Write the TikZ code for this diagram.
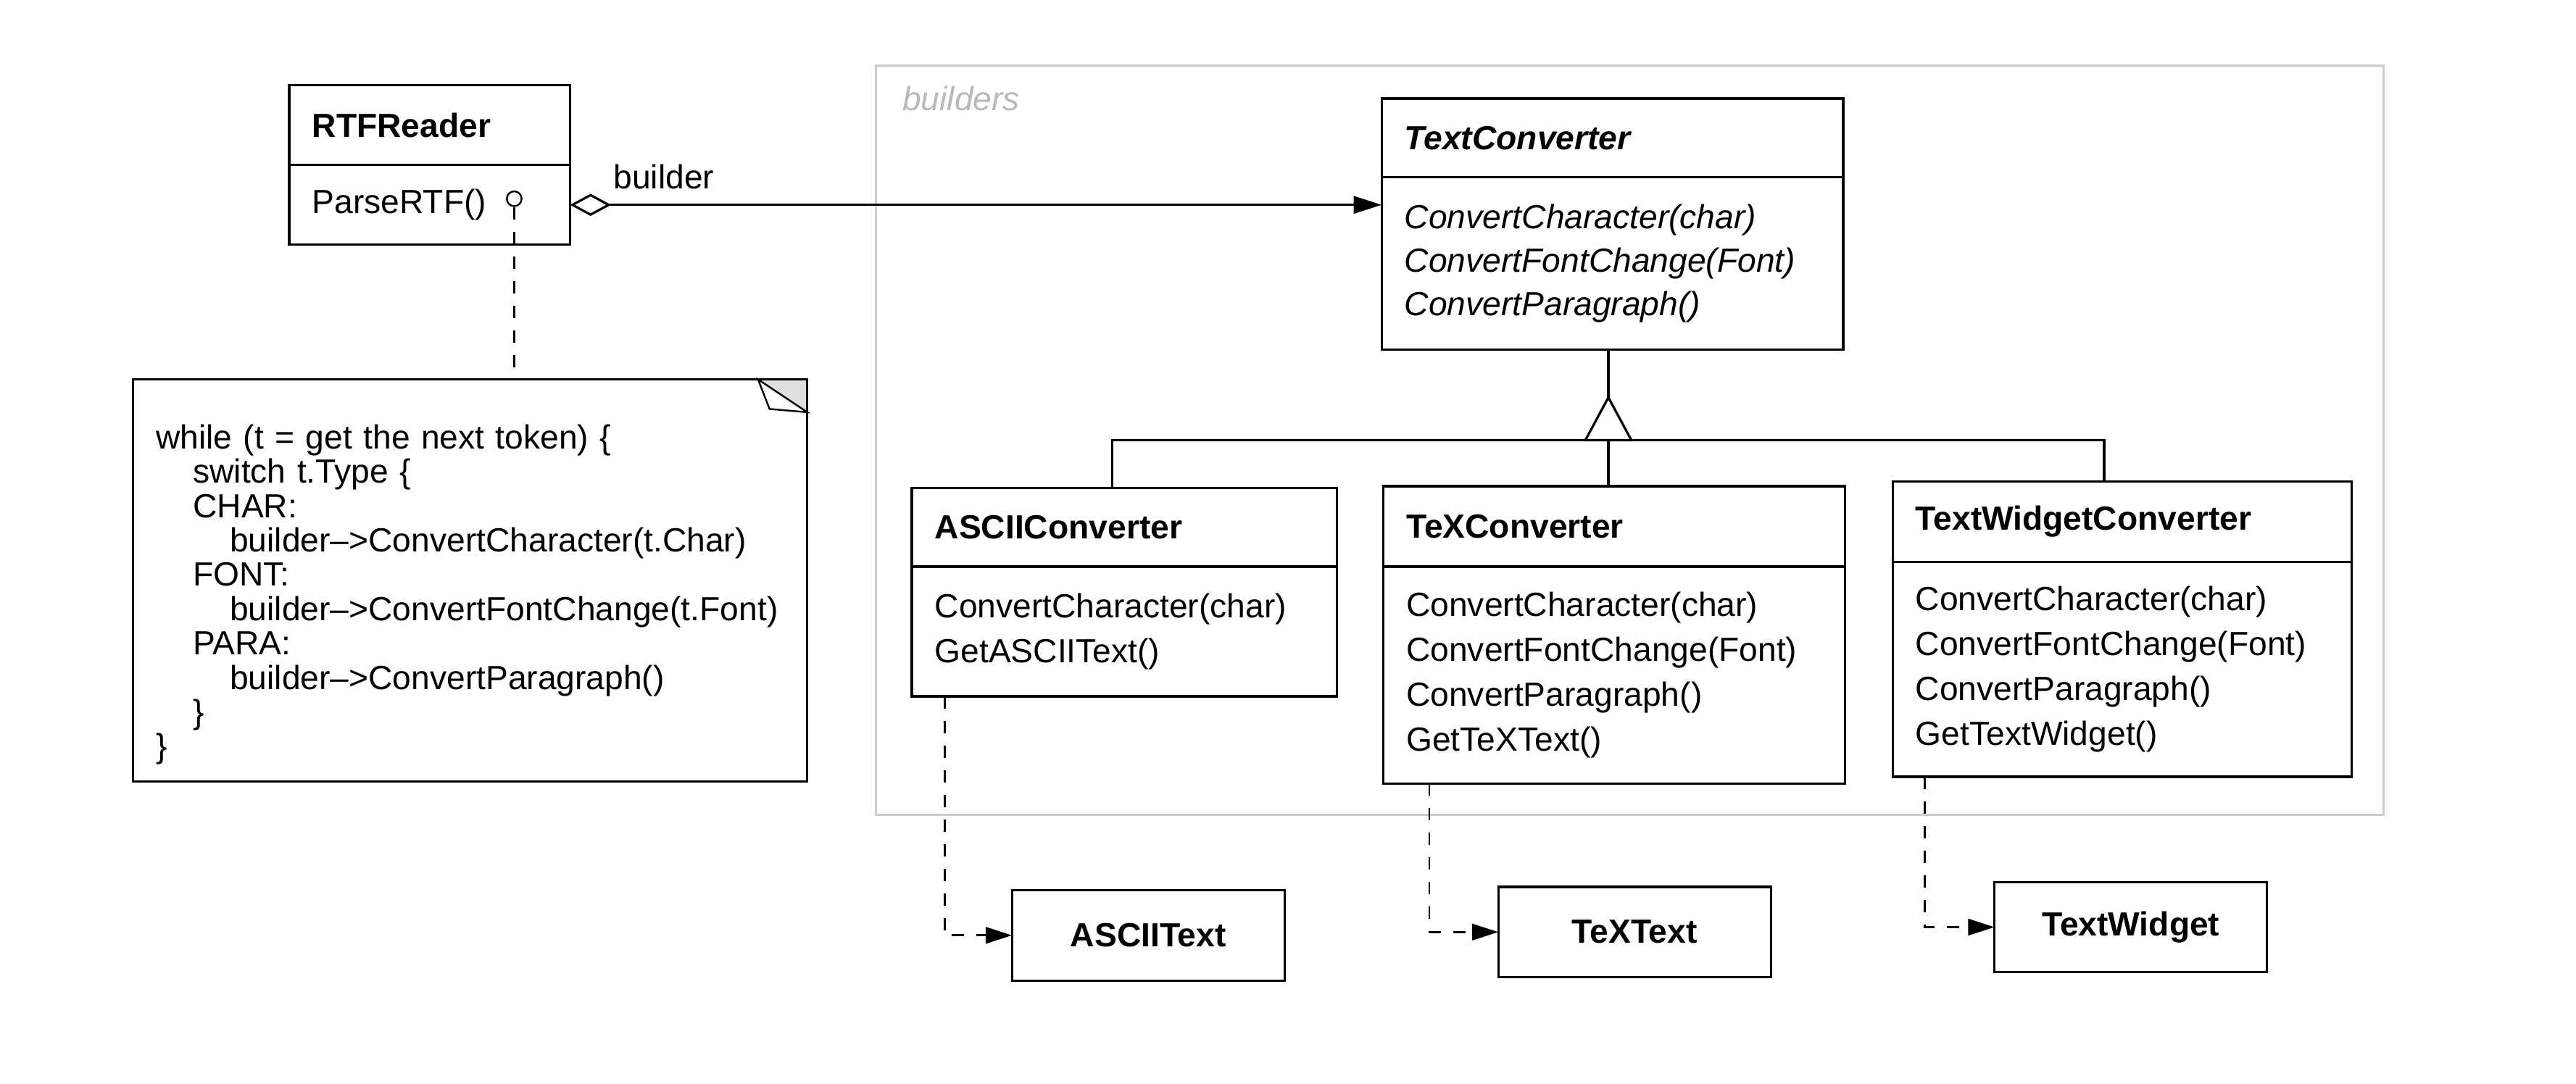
\documentclass[tikz,border=0pt]{standalone}
\usepackage{fontspec}
\setmainfont{Liberation Sans}
\usetikzlibrary{positioning,arrows.meta}
\newcommand{\codeindent}{\hspace*{0.45cm}}
\tikzset{
   classname/.style={draw, line width=0.8pt, outer sep=0pt, inner xsep=0.28cm,
      inner ysep=0pt, align=left, anchor=north west,
      font=\fontsize{11.6}{15}\selectfont\bfseries},
   classops/.style={draw, line width=0.8pt, outer sep=0pt, inner xsep=0.28cm,
      inner ysep=0pt, align=left, font=\fontsize{11.6}{15.6}\selectfont},
   depbox/.style={draw, line width=0.8pt, outer sep=0pt, minimum width=3.32cm,
      minimum height=1.1cm, anchor=north west,
      font=\fontsize{11.6}{14}\selectfont\bfseries},
   codenote/.style={draw, line width=0.8pt, outer sep=0pt, inner xsep=0.28cm,
      align=left, anchor=north west, font=\fontsize{11.6}{11.9}\selectfont},
   pkglabel/.style={anchor=west, inner sep=0pt, text=gray!55,
      font=\fontsize{11.6}{14}\selectfont\itshape},
   assoc/.style={line width=0.8pt,
      {Diamond[open,length=0.5cm,width=0.27cm]}-{Triangle[length=0.34cm,width=0.21cm]}},
   dep/.style={line width=0.7pt, dash pattern=on 0.15cm off 0.15cm,
      -{Triangle[length=0.32cm,width=0.2cm]}}
}
\begin{document}
\begin{tikzpicture}[x=0.02cm, y=-0.02cm, font=\fontsize{11.6}{14}\selectfont]
   \useasboundingbox (0,0) rectangle (1568,660);
   %
   % package frame
   \draw[gray!40, line width=0.8pt] (533,40) rectangle (1451,496);
   \node[pkglabel] (pkg) at (549,60) {builders};
   %
   % director
   \node[classname, text width=2.86cm, minimum height=0.97cm] (rtf) at (176,52) {RTFReader};
   \node[classops, text width=2.86cm, minimum height=0.97cm, below=0pt of rtf] (rtf-ops) {ParseRTF()};
   \node[draw, circle, line width=0.6pt, minimum size=0.18cm, inner sep=0pt] (hook) at (313,121) {};
   %
   % abstract builder
   \node[classname, text width=5.06cm, minimum height=0.96cm,
         font=\fontsize{11.6}{15}\selectfont\bfseries\itshape] (tc) at (841,60) {TextConverter};
   \node[classops, text width=5.06cm, minimum height=2.1cm, below=0pt of tc,
         font=\fontsize{11.6}{15}\selectfont\itshape] (tc-ops)
        {ConvertCharacter(char)\\ConvertFontChange(Font)\\ConvertParagraph()};
   %
   % concrete builders
   \node[classname, text width=4.62cm, minimum height=0.96cm] (ac) at (555,297) {ASCIIConverter};
   \node[classops, text width=4.62cm, minimum height=1.58cm, below=0pt of ac] (ac-ops)
        {ConvertCharacter(char)\\GetASCIIText()};
   %
   \node[classname, text width=5.06cm, minimum height=0.98cm] (texc) at (842,296) {TeXConverter};
   \node[classops, text width=5.06cm, minimum height=2.64cm, below=0pt of texc] (texc-ops)
        {ConvertCharacter(char)\\ConvertFontChange(Font)\\ConvertParagraph()\\GetTeXText()};
   %
   \node[classname, text width=5.03cm, minimum height=0.98cm] (twc) at (1152,293) {TextWidgetConverter};
   \node[classops, text width=5.03cm, minimum height=2.62cm, below=0pt of twc] (twc-ops)
        {ConvertCharacter(char)\\ConvertFontChange(Font)\\ConvertParagraph()\\GetTextWidget()};
   %
   % products
   \node[depbox] (atext) at (616,542) {ASCIIText};
   \node[depbox] (textext) at (912,540) {TeXText};
   \node[depbox] (twtext) at (1214,537) {TextWidget};
   %
   % note
   \node[codenote, text width=7.65cm, minimum height=4.9cm] (note) at (81,231)
        {\rule{0pt}{0.64cm}while (t = get the next token) \{\\
         \codeindent switch t.Type \{\\
         \codeindent CHAR:\\
         \codeindent\codeindent builder–>ConvertCharacter(t.Char)\\
         \codeindent FONT:\\
         \codeindent\codeindent builder–>ConvertFontChange(t.Font)\\
         \codeindent PARA:\\
         \codeindent\codeindent builder–>ConvertParagraph()\\
         \codeindent \}\\
         \}};
   \fill[gray!25] ([xshift=-0.6cm]note.north east) -- (note.north east)
        -- ([yshift=-0.4cm]note.north east) -- cycle;
   \draw[line width=0.6pt, fill=white] ([xshift=-0.6cm]note.north east)
        -- ([xshift=-0.46cm,yshift=-0.36cm]note.north east)
        -- ([yshift=-0.4cm]note.north east) -- cycle;
   \draw[line width=0.8pt] ([xshift=-0.6cm]note.north east) -- (note.north east)
        -- ([yshift=-0.4cm]note.north east);
   \draw[line width=0.6pt, dash pattern=on 0.15cm off 0.15cm] (hook.south) -- (hook |- note.north);
   %
   % association
   \draw[assoc] (rtf-ops.east) -- (rtf-ops.east -| tc-ops.west)
        node[pos=0, anchor=base west, xshift=0.4cm, yshift=0.2cm] (role) {builder};
   %
   % generalization
   \coordinate (gen) at (979,268);
   \draw[line width=0.8pt] (gen |- tc-ops.south) -- (gen);
   \draw[line width=0.8pt] ([xshift=-0.15cm]ac.north) |- (gen) -| ([xshift=-0.22cm]twc.north);
   \draw[line width=0.8pt] (gen) -- (gen |- texc.north);
   \draw[line width=0.8pt, fill=white] (gen) ++(0,-26) -- ++(-14,26) -- ++(28,0) -- cycle;
   %
   % dependencies
   \draw[dep] ([xshift=0.4cm]ac-ops.south west) |- (atext.west);
   \draw[dep] ([xshift=0.56cm]texc-ops.south west) |- (textext.west);
   \draw[dep] ([xshift=0.39cm]twc-ops.south west) |- (twtext.west);
   %
\end{tikzpicture}
\end{document}
